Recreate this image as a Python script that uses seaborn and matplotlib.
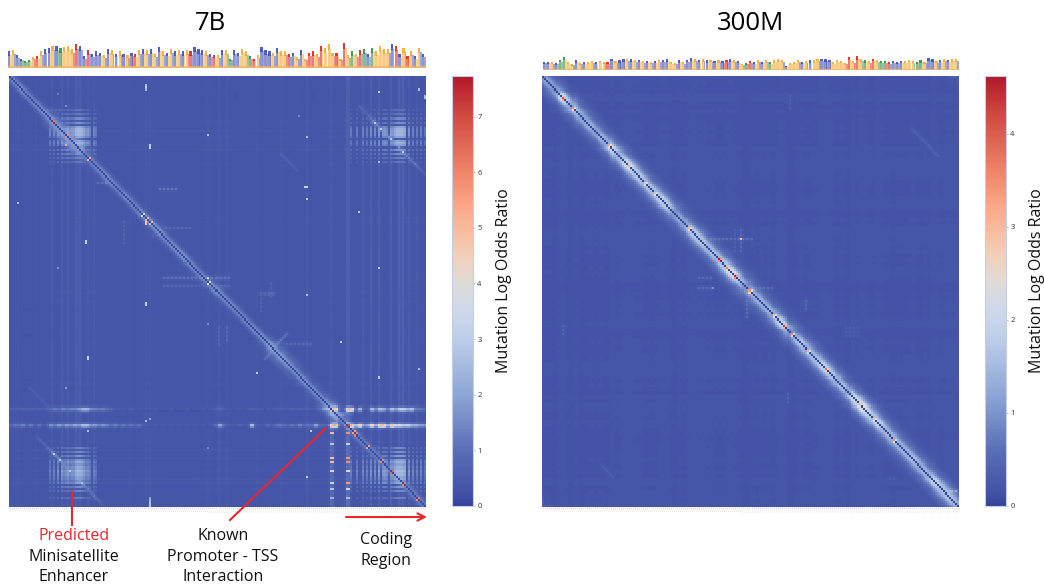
import numpy as np
import seaborn as sns
import matplotlib.pyplot as plt
from matplotlib.colors import LinearSegmentedColormap

plt.rcParams['font.family'] = ['Open Sans', 'DejaVu Sans']

W, H = 1044, 585
N = 208

# values, cell indices are sequence positions
vmax_7b = 7.73
vmax_300m = 4.62
ticks_7b = [0, 1, 2, 3, 4, 5, 6, 7]
ticks_300m = [0, 1, 2, 3, 4]

letter_colors = {'C': '#3d4fb5', 'T': '#f5a92e', 'A': '#2f8f45', 'G': '#e3211c'}

logo_7b_heights = [.7, .75, .55, .4, .3, .35, .45, .5, .7, .8, .85, .95, .95, .85, .9, .95, .8, 1.0, .95, .5,
                   .75, .6, .7, .65, .55, .8, .75, .6, .7, .6, .55, .65, .6, .75, .8, .75, .8, .6, .9, .7,
                   .65, .8, .7, .75, .7, .75, .7, .9, .8, .75, .7, .6, .55,
                   .55, .75, .75, .4, .75, .65, .8, .7, .5, .4, .55, .9, .75, .7, .65, .85, .7, .7, .6, .65,
                   .45, .75, .4, .65, .7, .6, .95, .85, 1.0, .65, .65, .4, 1.05, .55, .7, .6, .75, .8, .6,
                   .85, .7, .95, .8, .8, 1.0, .95, .6, .85, .5, .7, .5, .85, .6]
logo_7b_letters = ("CTCCAATGTCCTCATTTGCCGCCCTCTCTCTCGTCTCTCTCTCTCTGCCCTCG"
                   "TCTACCTTAGTCCCTCTTGCTCTGGTGTTTGTGTATGACATTTTCGCTGTCTCC")

logo_300m_heights = [.65, .65, .6, .55, .8, 1.0, .6, .45, .75, .55, .6, .65, .7, .6, .7, .65, .6, .9, .7, .75,
                     .85, .9, .85, .8, .8, .7, .7, .65, .7, .8, .8, .85, .6, .55, .75, .6, .8, .95, .85, .8,
                     .85, .75, .8, .7, .75, .7, .8, .85, .75, .7, .5, .55, .7,
                     .6, .75, .65, .75, .6, .75, .85, .8, .35, .55, .65, .8, .65, .7, .75, .75, .9, .9, .85,
                     .8, .6, .8, .7, .55, 1.0, .7, 1.1, .85, .75, .7, .9, .8, .7, .7, .6, .7, .65, .7, .7,
                     .8, .7, .65, .75, .65, .95, .85, .7, .8, .85, .8, .85, .85]
logo_300m_letters = ("CCTCAATTCTCTTCTTGCTCCTCTCTCTCTCCTTCTCCTCTCTCTCGCTCTAG"
                     "CTCTATTTCTTTCTCTTCCCTTTTGTGTATGTAAGCCCTTTAATCCTCTCTT")

# faint stripes running through the whole 7B map
tint_idx_7b = [4, 13, 21, 26, 29, 33, 35, 39, 42, 60, 68, 70, 99, 104, 108, 123, 135, 148, 160, 168, 169,
               176, 180, 184, 190, 194, 196, 199, 203]
tint_val_7b = [.1, .1, .2, .25, .2, .3, .3, .2, .2, .08, .12, .12, .1, .2, .15, .12, .1, .2, .2, .35, .3,
               .25, .3, .3, .3, .4, .4, .25, .2]

cloud_a_row_idx = [16, 18, 20, 22, 24, 25, 26, 27, 28, 29, 31, 32, 33, 35, 37, 39, 41]
cloud_a_row_w = [.25, .3, .45, .5, .7, .95, 1, .95, 1, .7, .7, .9, .7, .6, .5, .4, .3]
cloud_a_col_idx = [20, 22, 24, 26, 27, 28, 29, 30, 31, 32, 33, 34, 35, 36, 37, 38, 39, 40, 42, 43]
cloud_a_col_w = [.35, .4, .5, .65, .45, .55, .7, .5, .6, .6, .9, 1, 1, .9, .7, .5, .55, .4, .4, .3]
cloud_b_row_idx = [179, 181, 183, 185, 186, 187, 188, 189, 190, 191, 192, 193, 194, 195, 196, 198, 200, 203]
cloud_b_row_w = [.4, .45, .55, .6, .8, .6, .8, .75, 1, .85, .9, .7, .7, .5, .7, .5, .4, .35]
cloud_b_col_idx = [170, 173, 176, 178, 180, 182, 184, 186, 187, 188, 190, 191, 192, 193, 194, 195, 196, 197, 199,
                   201, 203, 205, 207]
cloud_b_col_w = [.35, .35, .4, .35, .5, .45, .6, .55, .6, .5, .65, .6, .8, 1, 1, 1, .95, .8, .55, .4, .35, .4, .3]

# rows 160 and 168, two cells per value
strip_168 = [.8, 1.2, 1.0, 1.5, .8, 1.4, .6, 1.2, .5, .8,
             1.8, 1.2, 2.0, 1.4, 2.0, 1.6, 2.2, 1.8, 2.8, 2.8, 1.8, 2.0, 1.4, 1.8, 1.5, 1.0,
             1.4, .9, 1.3, .8, 1.2, .8, 1.2, .6,
             .5, .4, .5, .4, .5, .4, .5, .4, .5, .4, .5, .4, .5, .4, .5, .4, .5,
             .8, 2.4, 1.0, .6, .5, .5, .8, .5, .5, 3.0, .6, .5, .5, 1.0, .6,
             1.0, 1.3, 1.0, .8, 1.2, .8, 1.5, .8, 1.2, 1.0, 2.2, .9, .9, .8,
             5.4, 5.6, .8, .8, 6.5,
             5.4, 2.5, 5.2, 1.8, 2.2, 5.0, 2.0, 5.2, 5.4, 2.2, 5.4, 3.5, 4.0, 3.0, 3.4, 2.5, 2.5, 2.0, 2.0]
strip_160 = [.6, .7, .6, .7, .6, .7, .6, .7, .6, .7,
             1, 1.4, 1, 1.5, 1.2, 1.5, 1.4, 1.8, 2.6, 2.6, 1.6, 1.4, 1.2, 1.4, 1, .8,
             .5, .4, .5, .4, .6, .4, .5, .4, .4, .4, .5, .4, .4, .4, .5, .4, .4, .4, .5, .4, .4, .4, .5, .4, .4,
             .6, .9, .6, .5, .4, .5, .5, .4, .5, .6, .5, .5, .4, .5, .5, .6, .7, .5, .5, .7, .5, .6, .5, .6, .5, .6,
             1, 1.8, 2.4, 3.6, 4.8, .6, .6, 5.4, 5.2, .6, 2.8, .6, .5,
             3.0, 1.4, 3.0, 2.4, 1.2, 3.0, 2.0, 3.2, 3.2, 2.4, 3.0, 1.3, 1.2, 1.0]

hot_rows_7b = [172, 177, 184, 186, 190, 196, 199, 203]
hot_col160_7b = [5.0, 2.8, 4.8, 5.0, 3.4, 3.2, 2.8, 2.2]
hot_col168_7b = [5.8, 3.2, 5.6, 5.8, 3.6, 5.6, 3.4, 2.6]

# repeat of the enhancer, position i pairs with position i + 160, i starts at 14
repeat_7b = [1.0, 1.2, 1.0, 1.4, 1.2, 1.6, 1.8, 2.0, 5.8, 2.2, 2.0, 5.4, 2.0, 2.4, 2.2, 2.6, 5.0, 2.4, 2.6, 2.2,
             2.4, 2.6, 5.0, 2.2, 2.0, 2.2, 1.8, 1.6, 2.0, 1.6, 1.4, 1.2, 1.0, .9]

# per four positions: near diagonal strength, then wider halo
diag_7b = [1, 1.1, 1, 1.1, 1.2, 1.2, 1.1, 1.3, 1.2, 1.0, 1.0, 1.1, 1.1, 1.0, 1.1, 1.0, 1.2, 1.3, 1.3, 1.1,
           1.2, 1.3, 1.1, 1.0, 1.0, 1.2, 1.1, 1.1, 1.0, 1.0, 1.1, 1.2, 1.4, 1.4, 1.3, 1.2, 1.2, 1.1, 1.1, 1.2,
           1.3, 1.0, .9, .9, .9, .9, .9, .9, .9, .9, .9, .9]
halo_7b = [0, .2, .2, .3, .5, .7, .9, .9, .8, .5, .2, .1, .2, .2, .2, .3, .2, .4, .3, .2,
           .2, .2, .2, .2, .3, .3, .2, .2, .1, .1, .3, .7, .9, 1.0, .8, .7, .6, .6, .6, .9,
           1.3, .2, .1, .1, .2, .1, .2, .2, .1, .1, 0, 0]
hot_diag_7b_idx = [21, 28, 39, 66, 68, 70, 99, 160, 168, 171, 172, 178, 185, 190, 196, 203]
hot_diag_7b_val = [6.2, 6.0, 5.2, 3.6, 5.0, 5.0, 4.0, 5.0, 6.9, 5.5, 6.0, 5.5, 6.0, 6.5, 6.0, 6.0]

# isolated bright cells
spot_7b_row = [5, 4, 6, 7, 6, 9, 10, 28, 33, 34, 29, 19, 53, 53, 59, 61, 79, 80, 65, 92, 92, 70, 71, 97, 105, 41, 14, 8,
               109, 110, 135, 136, 128, 145, 141, 143, 150, 166, 165, 171, 171, 193, 179, 119, 203, 204, 205, 206, 207, 33]
spot_7b_col = [68, 68, 68, 184, 204, 207, 207, 99, 70, 70, 148, 144, 147, 148, 148, 4, 38, 38, 174, 184, 24, 68, 68, 99,
               148, 184, 28, 24, 68, 68, 39, 39, 165, 184, 204, 123, 28, 68, 70, 150, 39, 148, 99, 99, 70, 70, 70, 70, 70, 28]
spot_7b_val = [3, 2.6, 2.6, 3, 2.6, 2.6, 2.6, 2.6, 3, 3, 2.6, 1.5, 3.2, 3.2, 3, 2.6, 3.2, 3.2, 3, 3, 1.6, 4.8, 4.8, 3.5,
               2.6, 2.6, 1.6, 1.3, 3, 3, 3.2, 3.2, 3, 3, 2.6, 3, 1.8, 2.6, 2, 3, 2.6, 3, 1.5, 1.6, 2, 2.4, 2.8, 2.8, 2.8, 5.4]

# short row and column runs: index, first, last, value
run_rows_7b = [(97, 77, 110, 1.8), (101, 77, 110, 1.3), (51, 44, 50, 1.8), (54, 75, 83, 2.0), (73, 78, 90, 1.4),
               (129, 138, 150, 1.3), (16, 15, 26, 1.4), (105, 125, 131, 1.1), (104, 125, 131, 1.2)]
run_cols_7b = [(108, 121, 128, 1.4), (104, 121, 130, 1.1), (57, 70, 80, 1.1), (130, 100, 106, 1.1), (125, 105, 113, 1.0),
               (160, 162, 207, 1.5), (161, 163, 207, 1.3), (168, 162, 207, 1.6), (169, 163, 207, 1.3)]
# slanted faint lines: first row, first col, length, value
slant_7b = [(37, 135, 9, 1.0), (150, 10, 12, .8)]
cross_7b_col = [127, 128, 129, 130, 131, 132, 133, 134, 135, 136, 137, 138]
cross_7b_row = [136, 135, 134, 133, 132, 130, 129, 128, 127, 126, 125, 124]

diag_300m = [.9, .9, 1.2, 1.3, 1.1, 1, .9, 1, 1.1, .95, 1.1, 1, 1.05, 1.2, 1.1, 1, .9, .85, .9, .95,
             .9, 1, 1.2, 1.3, 1.15, 1, 1, .9, .95, 1.1, 1.25, 1.1, 1.05, 1, .95, .95, 1, 1, 1.2, 1.3,
             1.2, 1.05, 1, 1.1, 1, .95, .95, .95, 1, 1.05, .9, .8]
hot_diag_300m_idx = [10, 15, 33, 43, 51, 56, 73, 88, 92, 96, 103, 115, 120, 124, 132, 141, 158, 165, 175]
hot_diag_300m_val = [4.2, 3.6, 3.2, 3.2, 3.0, 3.0, 3.2, 4.6, 3.6, 4.5, 3.4, 3.0, 4.2, 3.6, 3.2, 3.8, 3.0, 3.0, 3.6]

run_rows_300m = [(78, 84, 104, 1.0), (97, 78, 85, .9), (102, 78, 85, .9), (102, 104, 114, .9), (200, 204, 207, 2.0),
                 (123, 151, 158, .45), (121, 151, 158, .45), (125, 151, 158, .45), (194, 173, 176, .6)]
run_cols_300m = [(99, 74, 84, .9), (96, 74, 84, .6), (102, 108, 116, .9), (131, 108, 113, .8), (10, 120, 125, .7),
                 (123, 9, 15, .6), (122, 153, 157, .7), (203, 200, 205, 1.5)]
slant_300m = [(25, 184, 14, .55), (188, 30, 6, .5)]
spot_300m_row = [78, 97, 102]
spot_300m_col = [99, 99, 85]
spot_300m_val = [3.0, 1.2, 1.0]

band_near = [1.5, .7, .3, .15]
band_halo = [1.0, .8, .6, .45, .3, .2, .1]
band_300m = [2.2, 1.65, 1.15, .85, .62, .46, .32, .22, .14, .08, .04]


def runs(M, rows, cols):
    for r, a, b, v in rows:
        M[r, a:b + 1:2] = np.maximum(M[r, a:b + 1:2], v)
    for c, a, b, v in cols:
        M[a:b + 1:2, c] = np.maximum(M[a:b + 1:2, c], v)


def slants(M, lines):
    for r, c, n, v in lines:
        for k in range(n):
            M[r + k, c + k] = max(M[r + k, c + k], v)


def cloud(M, row_idx, row_w, col_idx, col_w, scale):
    for r, wr in zip(row_idx, row_w):
        for c, wc in zip(col_idx, col_w):
            M[r, c] = max(M[r, c], scale * (wr * wc) ** .6)


def soften(M):
    # the reference was downscaled, so neighbouring cells bleed a little
    out = M.copy()
    for axis in (0, 1):
        out = .7 * out + .15 * np.roll(out, 1, axis) + .15 * np.roll(out, -1, axis)
    return out


# 7B map
grain = np.repeat(logo_7b_heights[:N // 2], 2)
M7 = .26 + .05 * grain[:, None] + .05 * grain[None, :]
for i, v in zip(tint_idx_7b, tint_val_7b):
    M7[i, :] += v * .3
    M7[:, i] += v
for k, v in enumerate(repeat_7b):
    M7[14 + k, 174 + k] = v
    M7[174 + k, 14 + k] = v
for i in range(N):
    near = diag_7b[i // 4]
    halo = halo_7b[i // 4]
    for k, v in enumerate(band_near):
        if i + k + 1 < N:
            M7[i, i + k + 1] = max(M7[i, i + k + 1], .3 + v * near)
            M7[i + k + 1, i] = max(M7[i + k + 1, i], .3 + v * near)
    for k, v in enumerate(band_halo):
        if i + k + 2 < N:
            val = .3 + v * halo * grain[i] * grain[i + k + 2] * 2
            M7[i, i + k + 2] = max(M7[i, i + k + 2], val)
            M7[i + k + 2, i] = max(M7[i + k + 2, i], val)
runs(M7, run_rows_7b, run_cols_7b)
slants(M7, slant_7b)
for c, r in zip(cross_7b_col, cross_7b_row):
    M7[r, c] = max(M7[r, c], 1.7)
for k, v in enumerate(strip_168):
    M7[168, 2 * k:2 * k + 2] = v * 1.2
    M7[169, 2 * k:2 * k + 2] = v * .55
for k, v in enumerate(strip_160):
    M7[160, 2 * k:2 * k + 2] = v * 1.2
    M7[161, 2 * k:2 * k + 2] = v * .55
M7 = soften(M7)
cloud(M7, cloud_a_row_idx, cloud_a_row_w, cloud_a_col_idx, cloud_a_col_w, 2.5)
cloud(M7, cloud_a_row_idx, cloud_a_row_w, cloud_b_col_idx, cloud_b_col_w, 2.4)
cloud(M7, cloud_b_row_idx, cloud_b_row_w, cloud_a_col_idx, cloud_a_col_w, 2.4)
cloud(M7, cloud_b_row_idx, cloud_b_row_w, cloud_b_col_idx, cloud_b_col_w, 2.6)
for r, a, b in zip(hot_rows_7b, hot_col160_7b, hot_col168_7b):
    M7[r, 160:162] = a
    M7[r, 168:170] = b
for i in range(N):
    M7[i, i] = .12
for i, v in zip(hot_diag_7b_idx, hot_diag_7b_val):
    M7[i, i + 1] = v
    M7[i + 1, i] = v
for r, c, v in zip(spot_7b_row, spot_7b_col, spot_7b_val):
    M7[r, c] = v

# 300M map, the band fuzz follows how tall the logo is at each position
grain = np.clip(np.repeat(logo_300m_heights[:N // 2], 2), 0, .9)
M3 = .13 + .035 * grain[:, None] + .035 * grain[None, :]
fuzz = (grain + .3) * .85
for i in range(N):
    s = diag_300m[i // 4]
    for k, v in enumerate(band_300m):
        if i + k + 1 < N:
            val = .18 + v * s * fuzz[i] * fuzz[i + k + 1]
            M3[i, i + k + 1] = max(M3[i, i + k + 1], val)
            M3[i + k + 1, i] = max(M3[i + k + 1, i], val)
runs(M3, run_rows_300m, run_cols_300m)
slants(M3, slant_300m)
M3 = soften(M3)
for i in range(N):
    M3[i, i] = .05
for i, v in zip(hot_diag_300m_idx, hot_diag_300m_val):
    M3[i, i] = v
    M3[i, i + 1] = max(M3[i, i + 1], v * .75)
    M3[i + 1, i] = max(M3[i + 1, i], v * .75)
for r, c, v in zip(spot_300m_row, spot_300m_col, spot_300m_val):
    M3[r, c] = v

cmap = LinearSegmentedColormap.from_list('odds', [
    (0, '#33439a'), (.02, '#404fa4'), (.13, '#5a6fb6'), (.26, '#8fa6d6'), (.39, '#bdcee9'), (.46, '#cfd9ea'),
    (.52, '#dedbd6'), (.58, '#f2d0bb'), (.65, '#f9b99b'), (.71, '#f9a283'), (.78, '#ee8468'), (.91, '#d04a42'),
    (1, '#b2182b')])

fig = plt.figure(figsize=(W / 100, H / 100), dpi=100)


def px_axes(x0, y0, x1, y1):
    return fig.add_axes([x0 / W, 1 - y1 / H, (x1 - x0) / W, (y1 - y0) / H])


def draw_map(M, vmax, ticks, x0, cx0, title, title_x, title_y):
    ax = px_axes(x0, 76, x0 + 417, 507)
    cax = px_axes(cx0, 76, cx0 + 21, 506)
    sns.heatmap(M, ax=ax, cbar_ax=cax, cmap=cmap, vmin=0, vmax=vmax, xticklabels=1, yticklabels=False,
                cbar_kws={'ticks': ticks})
    ax.tick_params(axis='x', length=1.5, width=.4, color='#c8c8c8', labelsize=1, labelcolor='#bbbbbb',
                   pad=.3, labelrotation=90)
    cax.tick_params(length=1.5, width=.4, color='#999999', labelsize=5.5, labelcolor='#333333', pad=1.5)
    cbar = ax.collections[0].colorbar
    cbar.outline.set_visible(True)
    cbar.outline.set_edgecolor('#c5cde6')
    cbar.outline.set_linewidth(.8)
    fig.text((cx0 + 52) / W, 1 - 281 / H, 'Mutation Log Odds Ratio', rotation=90, ha='center', va='center',
             fontsize=11.5, color='#111111')
    fig.text(title_x / W, 1 - title_y / H, title, ha='center', va='center', fontsize=18.5, color='black')


def draw_logo(heights, letters, x0, x1, y0, y1):
    ax = px_axes(x0, y0, x1, y1)
    colors = [letter_colors[c] for c in letters]
    n = min(len(heights), len(colors))
    pos = np.arange(n)
    h = np.array(heights[:n])
    colors = colors[:n]
    next_colors = colors[1:] + colors[:1]
    ax.bar(pos + .28, h * .8, width=.45, color=next_colors, alpha=.5, linewidth=0)
    ax.bar(pos - .2, h * .8, width=.55, color=colors, alpha=.6, linewidth=0)
    ax.bar(pos - .2, h * .25, bottom=h * .75, width=.55, color=colors, alpha=.9, linewidth=0)
    ax.bar(pos, .07, width=1, color='#f3b765', alpha=.8, linewidth=0)
    ax.set_xlim(-.5, n - .5)
    ax.set_ylim(0, 1.1)
    ax.axis('off')


draw_map(M7, vmax_7b, ticks_7b, 9, 452, '7B', 210, 23)
draw_map(M3, vmax_300m, ticks_300m, 542, 985, '300M', 750, 24)
draw_logo(logo_7b_heights, logo_7b_letters, 8, 426, 42, 68)
draw_logo(logo_300m_heights, logo_300m_letters, 543, 959, 56, 70)

# annotations drawn on a full figure overlay in pixel coordinates
over = fig.add_axes([0, 0, 1, 1], facecolor='none')
over.set_xlim(0, W)
over.set_ylim(H, 0)
over.axis('off')
red = '#e8262d'
over.plot([72, 72], [492, 525], color=red, lw=1.5)
over.plot([326, 230], [428, 520], color=red, lw=1.5)
over.annotate('', xy=(427, 517), xytext=(346, 517),
              arrowprops=dict(arrowstyle='->', color=red, lw=1.5, mutation_scale=13, shrinkA=0, shrinkB=0))

label_size = 11.5
over.text(74, 536, 'Predicted', color=red, ha='center', va='center', fontsize=label_size)
over.text(74, 557, 'Minisatellite', color='#111111', ha='center', va='center', fontsize=label_size)
over.text(74, 577, 'Enhancer', color='#111111', ha='center', va='center', fontsize=label_size)
over.text(223, 536, 'Known', color='#111111', ha='center', va='center', fontsize=label_size)
over.text(223, 557, 'Promoter - TSS', color='#111111', ha='center', va='center', fontsize=label_size)
over.text(223, 577, 'Interaction', color='#111111', ha='center', va='center', fontsize=label_size)
over.text(386, 539.5, 'Coding', color='#111111', ha='center', va='center', fontsize=label_size)
over.text(386, 561, 'Region', color='#111111', ha='center', va='center', fontsize=label_size)

plt.savefig('out.png', dpi=100)
